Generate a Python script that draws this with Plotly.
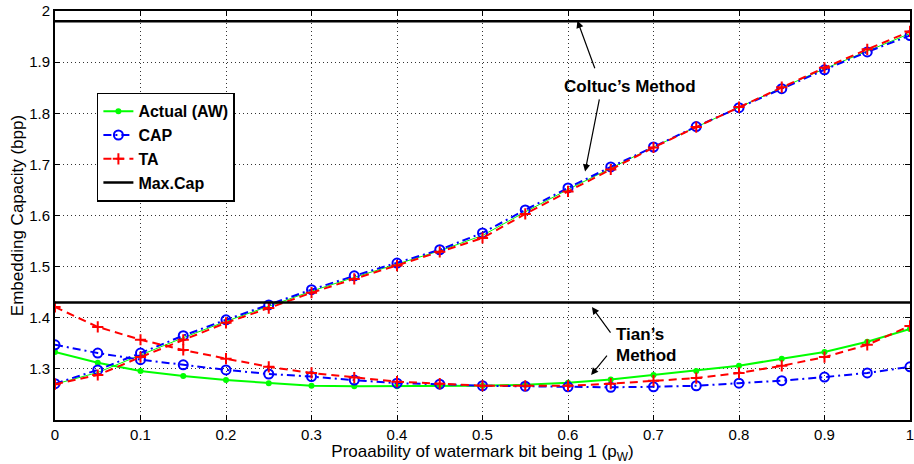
import plotly.graph_objects as go

# ---------------- data ----------------
p_w = [0.0, 0.05, 0.1, 0.15, 0.2, 0.25, 0.3, 0.35, 0.4, 0.45, 0.5,
       0.55, 0.6, 0.65, 0.7, 0.75, 0.8, 0.85, 0.9, 0.95, 1.0]

actual_tian = [1.333, 1.312, 1.296, 1.286, 1.278, 1.272, 1.267, 1.266, 1.266, 1.266, 1.267,
               1.269, 1.273, 1.279, 1.288, 1.296, 1.306, 1.320, 1.333, 1.353, 1.378]
cap_tian = [1.347, 1.331, 1.318, 1.308, 1.298, 1.290, 1.285, 1.278, 1.272, 1.270, 1.267,
            1.266, 1.265, 1.264, 1.265, 1.267, 1.272, 1.277, 1.284, 1.292, 1.304]
ta_tian = [1.421, 1.382, 1.357, 1.337, 1.320, 1.304, 1.292, 1.283, 1.275, 1.271, 1.267,
           1.267, 1.267, 1.271, 1.277, 1.282, 1.292, 1.306, 1.323, 1.347, 1.384]

actual_coltuc = [1.270, 1.293, 1.327, 1.361, 1.393, 1.422, 1.452, 1.479, 1.505, 1.531, 1.561,
                 1.607, 1.651, 1.693, 1.734, 1.773, 1.812, 1.850, 1.887, 1.922, 1.956]
cap_coltuc = [1.271, 1.298, 1.331, 1.365, 1.396, 1.425, 1.455, 1.482, 1.507, 1.533, 1.566,
              1.611, 1.654, 1.695, 1.734, 1.774, 1.811, 1.848, 1.885, 1.920, 1.952]
ta_coltuc = [1.270, 1.288, 1.323, 1.357, 1.390, 1.419, 1.449, 1.476, 1.502, 1.529, 1.556,
             1.603, 1.647, 1.690, 1.733, 1.773, 1.812, 1.851, 1.889, 1.925, 1.960]

max_cap_coltuc = 1.98
max_cap_tian = 1.43

x_ticks = [0, 0.1, 0.2, 0.3, 0.4, 0.5, 0.6, 0.7, 0.8, 0.9, 1]
x_tick_labels = ["0", "0.1", "0.2", "0.3", "0.4", "0.5", "0.6", "0.7", "0.8", "0.9", "1"]
y_ticks = [1.3, 1.4, 1.5, 1.6, 1.7, 1.8, 1.9, 2.0]
y_tick_labels = ["1.3", "1.4", "1.5", "1.6", "1.7", "1.8", "1.9", "2"]

# ---------------- styles ----------------
FONT = "Liberation Sans, Arial, Helvetica, sans-serif"
GREEN = "#00ff00"
BLUE = "#0000ff"
RED = "#ff0000"

fig = go.Figure()

# Actual (AW)
fig.add_trace(go.Scatter(x=p_w, y=actual_tian, mode="lines+markers", name="Actual (AW)",
                         line=dict(color=GREEN, width=2),
                         marker=dict(symbol="circle", size=6, color=GREEN)))
fig.add_trace(go.Scatter(x=p_w, y=actual_coltuc, mode="lines", showlegend=False,
                         line=dict(color=GREEN, width=1)))
# CAP
fig.add_trace(go.Scatter(x=p_w, y=cap_tian, mode="lines+markers", name="CAP",
                         line=dict(color=BLUE, width=2, dash="8px,4px,2px,4px"),
                         marker=dict(symbol="circle-open", size=9, color=BLUE,
                                     line=dict(width=2, color=BLUE))))
fig.add_trace(go.Scatter(x=p_w, y=cap_coltuc, mode="lines+markers", showlegend=False,
                         line=dict(color=BLUE, width=2, dash="8px,4px,2px,4px"),
                         marker=dict(symbol="circle-open", size=9, color=BLUE,
                                     line=dict(width=2, color=BLUE))))
# TA
fig.add_trace(go.Scatter(x=p_w, y=ta_tian, mode="lines+markers", name="TA",
                         line=dict(color=RED, width=2, dash="8px,5px"),
                         marker=dict(symbol="cross-thin", size=8,
                                     line=dict(width=2, color=RED))))
fig.add_trace(go.Scatter(x=p_w, y=ta_coltuc, mode="lines+markers", showlegend=False,
                         line=dict(color=RED, width=2, dash="8px,5px"),
                         marker=dict(symbol="cross-thin", size=8,
                                     line=dict(width=2, color=RED))))
# Max.Cap
fig.add_trace(go.Scatter(x=[p_w[0], p_w[-1]], y=[max_cap_coltuc, max_cap_coltuc],
                         mode="lines", name="Max.Cap", line=dict(color="black", width=2.5)))
fig.add_trace(go.Scatter(x=[p_w[0], p_w[-1]], y=[max_cap_tian, max_cap_tian],
                         mode="lines", showlegend=False, line=dict(color="black", width=2.5)))

axis_common = dict(showline=True, linecolor="black", linewidth=2, mirror="ticks",
                   ticks="inside", ticklen=5, tickcolor="black", tickwidth=1,
                   showgrid=True, gridcolor="#333333", gridwidth=1, griddash="1px,3px",
                   zeroline=False, automargin=False, ticklabeloverflow="allow",
                   tickfont=dict(family=FONT, size=15, color="black"))

fig.update_xaxes(range=[0, 1], tickvals=x_ticks, ticktext=x_tick_labels,
                 title=dict(text="Proaability of watermark bit being 1 (p<sub>W</sub>)",
                            font=dict(family=FONT, size=17, color="black"), standoff=2),
                 **axis_common)
fig.update_yaxes(range=[1.2, 2.0], tickvals=y_ticks, ticktext=y_tick_labels,
                 title=dict(text="Embedding Capacity (bpp)",
                            font=dict(family=FONT, size=17, color="black"), standoff=1),
                 **axis_common)

bold = dict(family=FONT, size=17, color="black", weight="bold")
ann = []
ann.append(dict(x=0.673, y=1.852, xref="x", yref="y", text="Coltuc\u2019s Method",
                showarrow=False, font=bold, xanchor="center", yanchor="middle"))
ann.append(dict(x=0.654, y=1.3665, xref="x", yref="y", text="Tian\u2019s",
                showarrow=False, font=bold, xanchor="left", yanchor="middle"))
ann.append(dict(x=0.654, y=1.3254, xref="x", yref="y", text="Method",
                showarrow=False, font=bold, xanchor="left", yanchor="middle"))
arrows = [((0.632, 1.885), (0.611, 1.981)),
          ((0.637, 1.830), (0.620, 1.686)),
          ((0.651, 1.368), (0.628, 1.421)),
          ((0.647, 1.329), (0.627, 1.288))]
for (tx, ty), (hx, hy) in arrows:
    ann.append(dict(x=hx, y=hy, ax=tx, ay=ty, xref="x", yref="y", axref="x", ayref="y",
                    text="", showarrow=True, arrowhead=2, arrowsize=1.2, arrowwidth=1.2,
                    arrowcolor="black"))

fig.update_layout(
    width=914, height=464,
    margin=dict(l=55, r=4, t=11, b=44, autoexpand=False),
    paper_bgcolor="white", plot_bgcolor="white",
    annotations=ann,
    legend=dict(x=0.049, y=0.80, xanchor="left", yanchor="top",
                bgcolor="white", bordercolor="black", borderwidth=1.5,
                font=dict(family=FONT, size=16, color="black", weight="bold"),
                itemwidth=30, tracegroupgap=0),
    font=dict(family=FONT, color="black"),
)

# remove the default 8px page margin so the figure fills the window exactly
fig.write_html("out.html", config={"displayModeBar": False},
               post_script="document.body.style.margin='0';document.body.style.overflow='hidden';")
